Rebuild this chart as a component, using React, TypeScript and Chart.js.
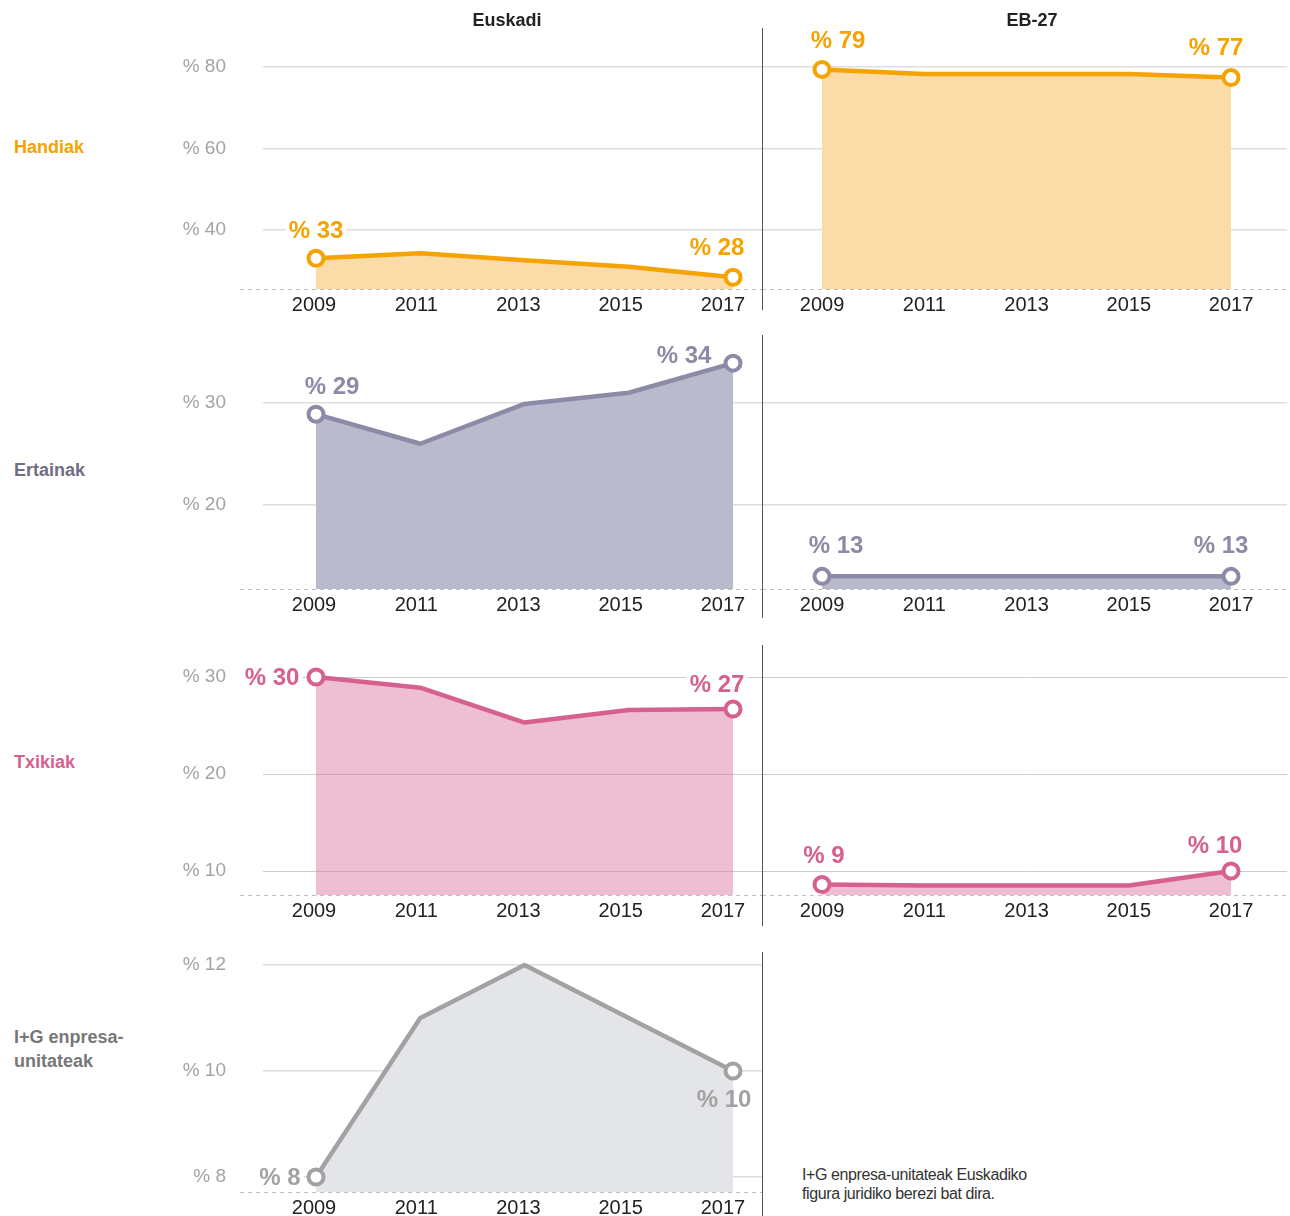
import React, { useEffect, useRef } from 'react';
import { Chart, registerables } from 'chart.js';

Chart.register(...registerables);

// ---------- data ----------
const years = [2009, 2011, 2013, 2015, 2017];

const handiakEuskadi = [33.05, 34.3, 32.6, 31.0, 28.4];
const handiakEB = [79.4, 78.3, 78.3, 78.3, 77.4];
const ertainakEuskadi = [28.9, 26.0, 29.9, 31.0, 33.9];
const ertainakEB = [13, 13, 13, 13, 13];
const txikiakEuskadi = [30.0, 28.9, 25.3, 26.6, 26.7];
const txikiakEB = [8.6, 8.5, 8.5, 8.5, 10.0];
const igEuskadi = [8.0, 11.0, 12.0, 11.0, 10.0];

const handiakTicks = [40, 60, 80];
const ertainakTicks = [20, 30];
const txikiakTicks = [10, 20, 30];
const igTicks = [8, 10, 12];

const columnTitles = ['Euskadi', 'EB-27'];
const rowLabels = ['Handiak', 'Ertainak', 'Txikiak', 'I+G enpresa-\nunitateak'];
const footnote = ['I+G enpresa-unitateak Euskadiko', 'figura juridiko berezi bat dira.'];

// ---------- layout / style ----------
const FONT = '"Liberation Sans", Arial, sans-serif';

type LabelSpec = { i: number; dx: number; dy: number; bg: boolean };
type PanelSpec = { values: number[]; labels: LabelSpec[] };
type RowSpec = {
  top: number; chartTop: number; baseline: number; yMin: number; yMax: number;
  ticks: number[]; line: string; fill: string; text: string; labelColor: string;
  gridColor: string; gridWidth: number; gridOnTop: boolean;
  eus: PanelSpec; eb?: PanelSpec; sepTop: number; sepBottom: number; labelY: number;
};

const rows: RowSpec[] = [
  {
    top: 0, chartTop: 20, baseline: 289, yMin: 25.52, yMax: 91.53, ticks: handiakTicks,
    line: '#F5A300', fill: '#FBDBA7', text: '#F5A300', labelColor: '#F5A300',
    gridColor: '#dedede', gridWidth: 1.5, gridOnTop: false, sepTop: 28, sepBottom: 310, labelY: 147,
    eus: { values: handiakEuskadi, labels: [{ i: 0, dx: 0, dy: -28, bg: true }, { i: 4, dx: -16, dy: -30, bg: true }] },
    eb: { values: handiakEB, labels: [{ i: 0, dx: 16, dy: -29, bg: true }, { i: 4, dx: -15, dy: -30, bg: true }] },
  },
  {
    top: 318, chartTop: 335, baseline: 589, yMin: 11.76, yMax: 36.66, ticks: ertainakTicks,
    line: '#8C8AA6', fill: '#B9BACB', text: '#8C8AA6', labelColor: '#6f6d82',
    gridColor: '#dedede', gridWidth: 1.5, gridOnTop: false, sepTop: 335, sepBottom: 618, labelY: 470,
    eus: { values: ertainakEuskadi, labels: [{ i: 0, dx: 16, dy: -28, bg: true }, { i: 4, dx: -49, dy: -8, bg: true }] },
    eb: { values: ertainakEB, labels: [{ i: 0, dx: 14, dy: -31, bg: true }, { i: 4, dx: -10, dy: -31, bg: true }] },
  },
  {
    top: 625, chartTop: 645, baseline: 895, yMin: 7.526, yMax: 33.3, ticks: txikiakTicks,
    line: '#D6608F', fill: 'rgba(220,120,160,0.48)', text: '#D6608F', labelColor: '#D6608F',
    gridColor: '#cdcdcd', gridWidth: 1, gridOnTop: true, sepTop: 645, sepBottom: 926, labelY: 762,
    eus: { values: txikiakEuskadi, labels: [{ i: 0, dx: -44, dy: 0, bg: true }, { i: 4, dx: -16, dy: -25, bg: true }] },
    eb: { values: txikiakEB, labels: [{ i: 0, dx: 2, dy: -29, bg: true }, { i: 4, dx: -16, dy: -26, bg: true }] },
  },
  {
    top: 930, chartTop: 945, baseline: 1192, yMin: 7.717, yMax: 12.377, ticks: igTicks,
    line: '#A2A2A2', fill: '#E3E5E8', text: '#A2A2A2', labelColor: '#777777',
    gridColor: '#dedede', gridWidth: 1.5, gridOnTop: false, sepTop: 952, sepBottom: 1216, labelY: 1049,
    eus: { values: igEuskadi, labels: [{ i: 0, dx: -36, dy: 0, bg: true }, { i: 4, dx: -9, dy: 28, bg: false }] },
  },
];

const X_AXIS_H = 30;

type Side = 'eus' | 'eb';

function zeroPadding(ax: any) {
  ax.paddingTop = 0;
  ax.paddingBottom = 0;
  ax.paddingLeft = 0;
  ax.paddingRight = 0;
}

function makeChart(canvas: HTMLCanvasElement, row: RowSpec, side: Side) {
  const panel = side === 'eus' ? row.eus : row.eb!;
  const isEus = side === 'eus';
  const xMin = isEus ? 2007.983 : 2007.826;
  const xMax = isEus ? 2017.556 : 2018.095;
  const lMin = isEus ? 2008.0024 : 2007.826;
  const lMax = isEus ? 2017.763 : 2018.095;
  const last = panel.values.length - 1;

  const decor = {
    id: 'decor',
    beforeDatasetsDraw(chart: any) {
      const { ctx, chartArea } = chart;
      ctx.save();
      ctx.strokeStyle = '#bdbdbd';
      ctx.lineWidth = 1;
      ctx.setLineDash([4, 4]);
      ctx.beginPath();
      const y = Math.round(chartArea.bottom) + 0.5;
      ctx.moveTo(chartArea.left - (isEus ? 23 : 0), y);
      ctx.lineTo(chartArea.right, y);
      ctx.stroke();
      ctx.restore();
    },
    afterDraw(chart: any) {
      const { ctx } = chart;
      const meta = chart.getDatasetMeta(0);
      ctx.save();
      ctx.font = `bold 24px ${FONT}`;
      ctx.textAlign = 'center';
      ctx.textBaseline = 'middle';
      for (const l of panel.labels) {
        const pt = meta.data[l.i];
        const text = '% ' + Math.round(panel.values[l.i]);
        const w = ctx.measureText(text).width;
        const cx = pt.x + l.dx;
        const cy = pt.y + l.dy;
        if (l.bg) {
          ctx.fillStyle = '#ffffff';
          ctx.fillRect(cx - w / 2 - 3, cy - 11, w + 6, 22);
        }
        ctx.fillStyle = row.text;
        ctx.fillText(text, cx, cy + 1);
      }
      ctx.restore();
    },
  };

  return new Chart(canvas, {
    type: 'line',
    data: {
      datasets: [
        {
          data: years.map((yr, i) => ({ x: yr, y: panel.values[i] })),
          borderColor: row.line,
          backgroundColor: row.fill,
          borderWidth: 4.5,
          fill: 'start',
          tension: 0,
          clip: false as any,
          pointRadius: (c: any) => (c.dataIndex === 0 || c.dataIndex === last ? 7.5 : 0),
          pointBackgroundColor: '#ffffff',
          pointBorderColor: row.line,
          pointBorderWidth: 4,
          borderJoinStyle: 'round',
        } as any,
      ],
    },
    options: {
      responsive: false,
      animation: false,
      devicePixelRatio: 1,
      events: [],
      layout: {
        autoPadding: false,
        padding: { top: row.chartTop - row.top, right: isEus ? 0 : 3, bottom: 0, left: 0 },
      },
      plugins: { legend: { display: false }, tooltip: { enabled: false } },
      scales: {
        x: { type: 'linear', display: false, min: xMin, max: xMax, afterFit: zeroPadding },
        xl: {
          type: 'linear',
          position: 'bottom',
          min: lMin,
          max: lMax,
          afterBuildTicks: (ax: any) => { ax.ticks = years.map((v) => ({ value: v })); },
          afterFit: (ax: any) => { ax.height = X_AXIS_H; zeroPadding(ax); },
          grid: { display: false, drawTicks: false },
          border: { display: false },
          ticks: {
            padding: 4,
            color: '#222222',
            font: { family: FONT, size: 20 },
            maxRotation: 0,
            autoSkip: false,
            callback: (v: any) => String(v),
          },
        },
        y: {
          type: 'linear',
          position: 'left',
          min: row.yMin,
          max: row.yMax,
          z: row.gridOnTop ? 1 : 0,
          afterBuildTicks: (ax: any) => { ax.ticks = row.ticks.map((v) => ({ value: v })); },
          afterFit: (ax: any) => { ax.width = isEus ? 113 : 0; zeroPadding(ax); },
          grid: { color: row.gridColor, lineWidth: row.gridWidth, drawTicks: false },
          border: { display: false },
          ticks: {
            display: isEus,
            padding: 37,
            color: '#a3a3a3',
            font: { family: FONT, size: 19 },
            callback: (v: any) => '% ' + v,
          },
        },
      } as any,
    },
    plugins: [decor],
  });
}

function PanelCanvas({ row, side }: { row: RowSpec; side: Side }) {
  const ref = useRef<HTMLCanvasElement>(null);
  const left = side === 'eus' ? 150 : 762;
  const width = side === 'eus' ? 612 : 528;
  const height = row.baseline - row.top + X_AXIS_H;
  useEffect(() => {
    const chart = makeChart(ref.current!, row, side);
    return () => chart.destroy();
  }, []);
  return (
    <canvas
      ref={ref}
      width={width}
      height={height}
      style={{ position: 'absolute', left, top: row.top, width, height }}
    />
  );
}

export default function App() {
  return (
    <div
      style={{
        position: 'absolute', left: 0, top: 0, width: 1290, height: 1216,
        overflow: 'hidden', background: '#ffffff', fontFamily: FONT,
      }}
    >
      {rows.map((row, ri) => (
        <React.Fragment key={ri}>
          <PanelCanvas row={row} side="eus" />
          {row.eb && <PanelCanvas row={row} side="eb" />}
          <div
            style={{
              position: 'absolute', left: 762, top: row.sepTop, width: 1,
              height: row.sepBottom - row.sepTop, background: '#555555',
            }}
          />
          <div
            style={{
              position: 'absolute', left: 14, top: row.labelY - (rowLabels[ri].includes('\n') ? 24 : 12),
              fontSize: 18, lineHeight: '24px', fontWeight: 700, color: row.labelColor,
              whiteSpace: 'pre',
            }}
          >
            {rowLabels[ri]}
          </div>
        </React.Fragment>
      ))}
      {columnTitles.map((t, i) => (
        <div
          key={t}
          style={{
            position: 'absolute', left: i === 0 ? 407 : 932, width: 200, top: 9,
            textAlign: 'center', fontSize: 18, lineHeight: '22px', fontWeight: 700, color: '#222222',
          }}
        >
          {t}
        </div>
      ))}
      <div
        style={{
          position: 'absolute', left: 802, top: 1165, fontSize: 16, lineHeight: '19px',
          color: '#333333', letterSpacing: '-0.4px',
        }}
      >
        {footnote.map((l) => (
          <div key={l}>{l}</div>
        ))}
      </div>
    </div>
  );
}
